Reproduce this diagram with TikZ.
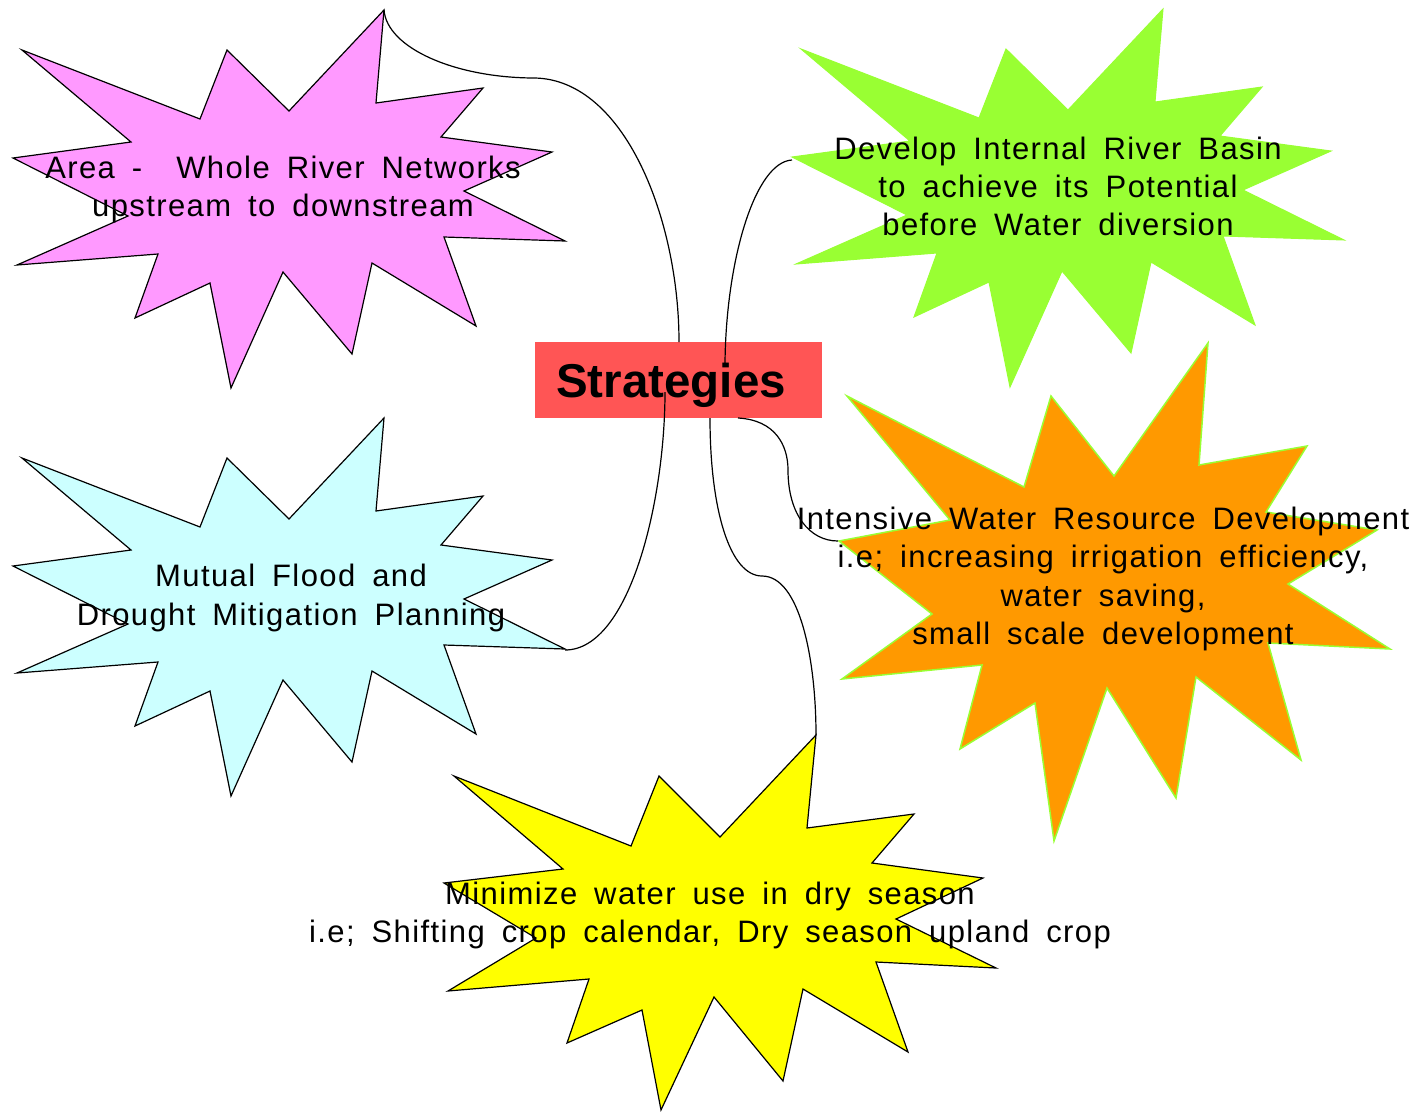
\documentclass[tikz,border=0pt]{standalone}
\usepackage{fontspec}
\setmainfont{Liberation Sans}
\newfontfamily\lblfont[LetterSpace=4.5,WordSpace=1.7]{Liberation Sans}
\newfontfamily\ttlfont{Liberation Sans}
\definecolor{pinkS}{RGB}{255,153,255}
\definecolor{greenS}{RGB}{153,255,51}
\definecolor{orangeS}{RGB}{255,153,0}
\definecolor{cyanS}{RGB}{204,255,255}
\definecolor{yellowS}{RGB}{255,255,0}
\definecolor{redS}{RGB}{255,85,85}
\tikzset{
  pics/burstA/.style={code={
    \path[pic actions] (384,10) -- (376,103) -- (483,88) -- (441,137) -- (552,152) -- (464,191)
      -- (565,241) -- (444,237) -- (476,326) -- (372,263) -- (352,354) -- (283,272)
      -- (231,388) -- (210,283) -- (135,318) -- (158,254) -- (17,265) -- (128,216)
      -- (13,158) -- (131,142) -- (22,50) -- (200,119) -- (227,50) -- (289,111) -- cycle;}},
  pics/burstB/.style={code={
    \path[pic actions] (1208,343) -- (1199,465) -- (1307,446) -- (1266,512) -- (1377,530)
      -- (1288,584) -- (1390,649) -- (1268,643) -- (1301,760) -- (1196,677) -- (1176,798)
      -- (1107,688) -- (1054,841) -- (1035,703) -- (960,749) -- (982,665) -- (842,679)
      -- (932,614) -- (839,541) -- (950,520) -- (847,396) -- (1024,487) -- (1051,396)
      -- (1114,476) -- cycle;}},
  pics/burstC/.style={code={
    \path[pic actions] (816,735) -- (807,828) -- (914,814) -- (872,863) -- (983,878)
      -- (896,919) -- (996,968) -- (876,962) -- (908,1052) -- (803,989) -- (783,1081)
      -- (714,997) -- (661,1110) -- (642,1010) -- (567,1043) -- (589,979) -- (448,991)
      -- (536,938) -- (444,883) -- (563,869) -- (454,776) -- (631,846) -- (659,776)
      -- (720,837) -- cycle;}},
  outl/.style={draw=black, line width=1.2pt, line join=miter},
  conn/.style={draw=black, line width=1.2pt},
  lbl/.style={inner sep=0pt, align=center, font=\lblfont\fontsize{31}{38.3}\selectfont}
}
\begin{document}
\begin{tikzpicture}[x=1pt,y=-1pt]
\path[use as bounding box, fill=white] (0,0) rectangle (1414,1112);
% bursts
\pic[fill=pinkS, outl] at (0,0) {burstA};
\pic[fill=greenS, draw=greenS, line width=1pt] at (779,-1) {burstA};
\pic[fill=orangeS, draw=greenS, line width=1.5pt] at (0,0) {burstB};
\pic[fill=cyanS, outl] at (0,408) {burstA};
\pic[fill=yellowS, outl] at (0,0) {burstC};
% central box
\node[fill=redS, minimum width=287pt, minimum height=76pt, inner sep=0pt] (strat) at (678.5,380) {};
% connector end points
\coordinate (pinktip) at (384,10);
\coordinate (pinkmid) at (535,78);
\coordinate (stratA) at (679,342);
\coordinate (greentip) at (792,160);
\coordinate (stratB) at (725,363);
\coordinate (bluetip) at (565,650);
\coordinate (stratC) at (665,392);
\coordinate (stratD) at (710,418);
\coordinate (yelmid) at (762,576);
\coordinate (yeltip) at (816,735);
\coordinate (stratE) at (738,418);
\coordinate (ormid) at (788,470);
\coordinate (ortip) at (838,541);
% connectors
\draw[conn] (pinktip) .. controls (387,48) and (455,78) .. (pinkmid) .. controls (625,80) and (679,220) .. (stratA);
\draw[conn] (greentip) .. controls (755,162) and (726,260) .. (stratB);
\draw[conn] (bluetip) .. controls (630,650) and (665,500) .. (stratC);
\draw[conn] (stratD) .. controls (710,510) and (730,576) .. (yelmid) .. controls (800,576) and (816,660) .. (yeltip);
\draw[conn] (stratE) .. controls (775,420) and (788,445) .. (ormid) .. controls (788,515) and (810,541) .. (ortip);
% texts
\node[anchor=base west, inner sep=0pt, font=\ttlfont\bfseries\fontsize{47.5}{50}\selectfont] (strattext) at (556,397) {Strategies};
\node[lbl] (tpink) at (283,189.5) {Area -\ \ Whole River Networks\\upstream to downstream};
\node[lbl] (tgreen) at (1058,186.5) {Develop Internal River Basin\\to achieve its Potential\\before Water diversion};
\node[lbl] (torange) at (1103,579) {Intensive Water Resource Development\\i.e; increasing irrigation efficiency,\\water saving,\\small scale development};
\node[lbl] (tblue) at (291,598) {Mutual Flood and\\Drought Mitigation Planning};
\node[lbl] (tyellow) at (710,915.5) {Minimize water use in dry season\\i.e; Shifting crop calendar, Dry season upland crop};
\end{tikzpicture}
\end{document}
